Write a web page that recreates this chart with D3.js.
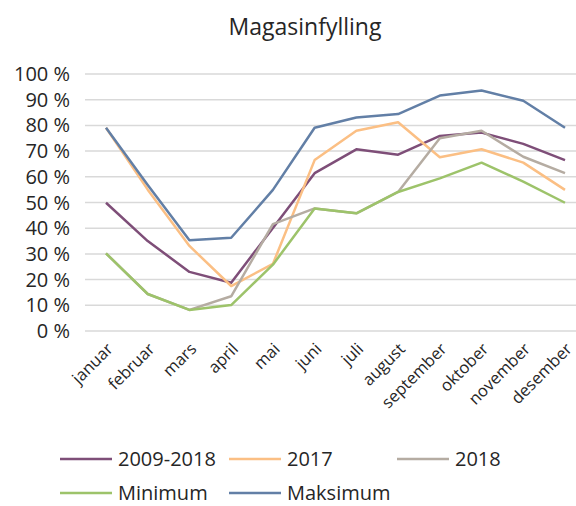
<!DOCTYPE html>
<html>
<head>
<meta charset="utf-8">
<script src="https://cdn.jsdelivr.net/npm/d3@7"></script>
<style>
  body { margin: 0; background: #fff; }
  svg text { font-family: "Open Sans", sans-serif; fill: #262626; }
</style>
</head>
<body>
<div id="chart"></div>
<script>
const months = ["januar", "februar", "mars", "april", "mai", "juni", "juli", "august", "september", "oktober", "november", "desember"];
const yTicks = [0, 10, 20, 30, 40, 50, 60, 70, 80, 90, 100];

const avg0918 = [49.9, 35.0, 23.0, 18.8, 40.1, 61.4, 70.7, 68.6, 75.9, 77.2, 72.8, 66.5];
const y2017 = [79.1, 55.0, 33.1, 17.5, 26.1, 66.5, 77.9, 81.2, 67.6, 70.7, 65.5, 54.9];
const y2018 = [30.2, 14.4, 8.2, 13.5, 41.6, 47.7, 45.8, 54.1, 75.0, 77.9, 67.8, 61.4];
const minimum = [30.2, 14.4, 8.2, 10.1, 25.8, 47.7, 45.8, 54.1, 59.4, 65.5, 58.1, 49.9];
const maksimum = [79.1, 56.8, 35.3, 36.3, 54.9, 79.1, 83.1, 84.4, 91.6, 93.6, 89.6, 79.1];

const series = [
  { name: "2009-2018", values: avg0918, color: "#7e4e78" },
  { name: "2017", values: y2017, color: "#fbbf84" },
  { name: "2018", values: y2018, color: "#b5aca2" },
  { name: "Minimum", values: minimum, color: "#9dc36a" },
  { name: "Maksimum", values: maksimum, color: "#627fa6" }
];

const width = 576, height = 506;
const svg = d3.select("#chart").append("svg")
    .attr("width", width)
    .attr("height", height);

const x = d3.scalePoint().domain(months).range([106, 565]);
const y = d3.scaleLinear().domain([0, 100]).range([331, 74]);

svg.append("text")
    .attr("x", 305).attr("y", 35)
    .attr("text-anchor", "middle")
    .style("font-size", "23px")
    .text("Magasinfylling");

// gridlines
svg.append("g")
  .selectAll("line")
  .data(yTicks)
  .join("line")
    .attr("x1", 85).attr("x2", width)
    .attr("y1", d => y(d)).attr("y2", d => y(d))
    .style("stroke", "#d9d9d9")
    .style("stroke-width", 1.5);

// y labels
svg.append("g")
  .selectAll("text")
  .data(yTicks)
  .join("text")
    .attr("x", 70)
    .attr("y", d => y(d) + 7)
    .attr("text-anchor", "end")
    .style("font-size", "20px")
    .text(d => d + " %");

// x labels
svg.append("g")
  .selectAll("text")
  .data(months)
  .join("text")
    .attr("transform", d => "translate(" + (x(d) + 8) + ",350) rotate(-45)")
    .attr("text-anchor", "end")
    .style("font-size", "16.5px")
    .text(d => d);

const line = d3.line()
    .x((d, i) => x(months[i]))
    .y(d => y(d));

svg.append("g")
  .selectAll("path")
  .data(series)
  .join("path")
    .attr("d", d => line(d.values))
    .style("fill", "none")
    .style("stroke", d => d.color)
    .style("stroke-width", 2.5)
    .style("stroke-linejoin", "round");

// legend (second row pulled up a little so the text is not cut at the bottom)
const legendPos = [[60, 459], [229, 459], [397, 459], [60, 493], [229, 493]];
const legend = svg.append("g")
  .selectAll("g")
  .data(series)
  .join("g")
    .attr("transform", (d, i) => "translate(" + legendPos[i][0] + "," + legendPos[i][1] + ")");

legend.append("line")
    .attr("x1", 0).attr("x2", 52)
    .attr("y1", 0).attr("y2", 0)
    .style("stroke", d => d.color)
    .style("stroke-width", 2.5);

legend.append("text")
    .attr("x", 58).attr("y", 7)
    .style("font-size", "20px")
    .text(d => d.name);
</script>
</body>
</html>
